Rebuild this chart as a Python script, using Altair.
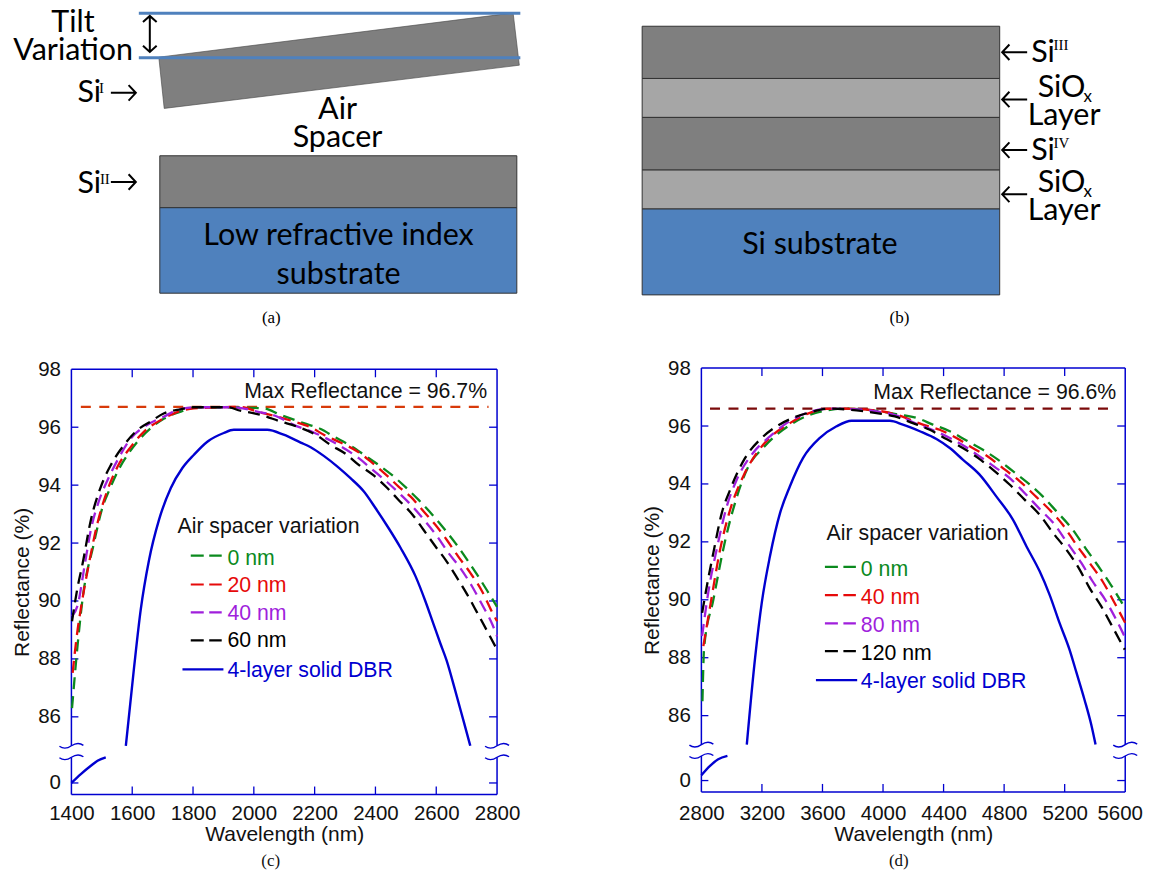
import altair as alt
import pandas as pd

# ---------- reflectance data, panel (c) ----------
C_GREEN_W = [1402,1421,1437,1472,1503,1525,1552,1585,1617,1661,1705,1760,1814,1912,2033,2087,2164,2220,2263,2318,2362,2410,2460,2499,2542,2587,2624,2663,2698,2735,2772,2800]
C_GREEN_V = [86.3,88.55,90.1,91.9,93.26,93.84,94.47,95.05,95.5,95.97,96.3,96.54,96.69,96.69,96.65,96.43,96.14,95.94,95.68,95.36,95.05,94.7,94.3,93.93,93.49,92.98,92.52,92.0,91.48,90.9,90.28,89.8]
C_RED_W = [1404,1419,1432,1456,1486,1519,1552,1596,1639,1694,1738,1803,1956,2011,2076,2131,2187,2230,2285,2341,2384,2439,2476,2515,2558,2597,2636,2672,2712,2751,2785,2800]
C_RED_V = [87.52,88.9,89.8,91.2,92.7,93.84,94.64,95.33,95.85,96.25,96.48,96.65,96.7,96.54,96.37,96.2,96.0,95.74,95.47,95.16,94.82,94.32,93.95,93.61,93.1,92.63,92.09,91.54,90.97,90.33,89.59,89.3]
C_PURPLE_W = [1402,1421,1443,1464,1492,1519,1552,1596,1650,1705,1749,1803,1934,2011,2076,2131,2197,2252,2302,2345,2394,2439,2483,2522,2564,2603,2640,2679,2718,2751,2785,2800]
C_PURPLE_V = [89.47,89.87,91.2,92.46,93.5,94.18,94.87,95.62,96.08,96.37,96.6,96.69,96.69,96.54,96.37,96.08,95.82,95.54,95.24,94.93,94.5,94.1,93.67,93.26,92.75,92.23,91.66,91.14,90.5,89.87,89.18,88.78]
C_BLACK_W = [1402,1419,1437,1464,1497,1530,1574,1617,1661,1705,1760,1803,1912,1956,2022,2087,2142,2204,2252,2302,2345,2391,2439,2476,2522,2558,2597,2630,2669,2702,2735,2768,2800]
C_BLACK_V = [89.3,90.4,91.3,92.8,93.95,94.7,95.4,95.9,96.2,96.48,96.62,96.69,96.69,96.57,96.43,96.2,96.02,95.74,95.39,95.08,94.7,94.36,93.9,93.49,92.98,92.46,91.89,91.43,90.79,90.22,89.59,88.95,88.32]
C_BLUE_W = [1579,1606,1628,1655,1688,1727,1765,1803,1847,1901,1934,2044,2098,2154,2187,2230,2275,2318,2362,2400,2443,2483,2532,2564,2591,2613,2634,2660,2690,2712]
C_BLUE_V = [85,87.7,89.7,91.4,92.8,93.9,94.59,95.05,95.5,95.8,95.91,95.91,95.74,95.47,95.31,95.01,94.64,94.24,93.78,93.21,92.52,91.83,90.85,90.0,89.2,88.55,87.95,87.0,85.85,85]
C_LOW_W = [1400,1431,1464,1486,1513]
C_LOW_V = [0,6.9,13.4,17.3,20]

# ---------- reflectance data, panel (d) ----------
D_GREEN_W = [2807,2818,2879,2956,3022,3110,3207,3297,3405,3517,3627,3735,3900,4111,4221,4329,4441,4551,4660,4759,4858,4969,5055,5145,5244,5343,5417,5507,5600]
D_GREEN_V = [86.5,88.34,90.0,92.02,93.34,94.6,95.24,95.7,96.1,96.39,96.54,96.6,96.56,96.39,96.28,96.05,95.82,95.5,95.18,94.84,94.44,93.98,93.57,93.06,92.48,91.74,91.2,90.5,89.7]
D_RED_W = [2813,2858,2924,2990,3076,3166,3274,3385,3495,3627,3735,3913,4045,4089,4263,4374,4485,4592,4692,4803,4902,5001,5100,5186,5277,5364,5450,5529,5600]
D_RED_V = [88.4,89.78,91.74,93.11,94.26,95.07,95.7,96.1,96.41,96.59,96.6,96.56,96.45,96.39,96.05,95.87,95.59,95.24,94.95,94.5,94.1,93.61,93.11,92.6,91.9,91.28,90.64,89.9,89.2]
D_PURPLE_W = [2805,2845,2901,2968,3034,3141,3253,3363,3495,3649,3869,4001,4111,4221,4309,4429,4539,4638,4737,4848,4935,5034,5133,5210,5309,5384,5474,5540,5600]
D_PURPLE_V = [88.75,90.24,91.74,93.23,94.15,95.07,95.64,96.1,96.45,96.6,96.56,96.47,96.33,96.08,95.9,95.62,95.3,94.95,94.59,94.15,93.69,93.14,92.6,92.02,91.28,90.64,89.95,89.32,88.69]
D_BLACK_W = [2805,2836,2879,2935,2990,3089,3199,3297,3405,3517,3649,3826,3979,4078,4197,4309,4419,4527,4627,4737,4836,4935,5034,5120,5210,5298,5364,5441,5507,5597]
D_BLACK_V = [89.55,90.47,91.62,93.0,93.8,94.9,95.59,95.99,96.28,96.47,96.6,96.54,96.43,96.33,96.1,95.87,95.55,95.24,94.9,94.44,93.98,93.46,92.94,92.33,91.74,91.05,90.41,89.78,89.15,88.28]
D_BLUE_W = [3100,3155,3199,3253,3320,3385,3472,3583,3693,3792,4045,4131,4243,4353,4441,4527,4638,4748,4858,4947,5034,5100,5166,5232,5277,5331,5375,5404]
D_BLUE_V = [85,88.0,89.9,91.5,93.0,93.92,94.9,95.59,95.99,96.18,96.18,96.05,95.82,95.55,95.24,94.84,94.32,93.57,92.77,91.85,90.99,90.18,89.2,88.28,87.5,86.55,85.7,85]
D_LOW_W = [2800,2857,2911,2972]
D_LOW_V = [4.3,11.9,17.3,20.8]

Y_TICKS = [0,86,88,90,92,94,96,98]
C_X_TICKS = [1400,1600,1800,2000,2200,2400,2600,2800]
D_X_TICKS = [2800,3200,3600,4000,4400,4800,5200,5600]

FRAME = "#0000d0"
GREEN, RED, PURPLE, BLACK, BLUE = "#0b8a1e", "#e60a0a", "#a01fdc", "#000000", "#0000d0"
SANS, SERIF, DIAG = "Liberation Sans", "Liberation Serif", "Lato"
TXT = "#111111"
ONE = alt.Data(values=[{"k": 1}])
TAG_Y = 867

SQUIGGLE = "M-1,.04C-.7,.26 -.35,.24 0,0C.35,-.24 .7,-.26 1,-.04"
ARROW_R = "M-1,0L1,0M.42,-.62L1,0L.42,.62"
ARROW_L = "M1,0L-1,0M-.42,-.62L-1,0L-.42,.62"
ARROW_V = "M0,-1L0,1M-.38,-.66L0,-1L.38,-.66M-.38,.66L0,1L.38,.66"


def px_text(text, x, y, size=21.3, color=TXT, font=SANS, align="left"):
    return alt.Chart(alt.Data(values=[{"t": text}])).mark_text(
        align=align, baseline="alphabetic", fontSize=size, font=font, color=color
    ).encode(x=alt.value(x), y=alt.value(y), text="t:N")


def px_rule(x, x2, y, color, dash=None, width=2.2):
    kw = {"strokeDash": dash} if dash else {}
    return alt.Chart(ONE).mark_rule(color=color, strokeWidth=width, **kw).encode(
        x=alt.value(x), x2=alt.value(x2), y=alt.value(y))


def spectrum_panel(cfg):
    xs = alt.Scale(domain=cfg["xdom"], range=[0, cfg["w"]], nice=False, zero=False)
    ys = alt.Scale(domain=cfg["ydom"], range=cfg["yrange"], nice=False, zero=False)
    xax = alt.Axis(values=cfg["xticks"], ticks=False, domain=False, grid=False, labelPadding=9.5,
                   labelFlush=False, labelOverlap=False, format="d", titlePadding=cfg["xpad"],
                   labelOffset={"condition": {"test": "datum.value == 5600", "value": -5.5}, "value": 0})
    yax = alt.Axis(values=Y_TICKS, ticks=False, domain=False, grid=False, labelPadding=11,
                   labelOverlap=False, labelFlush=False, format="d", titlePadding=cfg["ypad"])
    X = lambda f: alt.X(f, scale=xs, axis=xax, title="Wavelength (nm)")
    Y = lambda f: alt.Y(f, scale=ys, axis=yax, title="Reflectance (%)")
    w, top, bot = cfg["w"], cfg["yrange"][3], cfg["yrange"][0]
    ox, oy = cfg["ox"], cfg["oy"]
    layers = []

    # frame with the break in the vertical sides
    seg = pd.DataFrame({"a": [cfg["ydom"][0], 85], "b": [20, 98]})
    for xv in (0, w):
        layers.append(alt.Chart(seg).mark_rule(color=FRAME, strokeWidth=1.5).encode(
            x=alt.value(xv), y=Y("a:Q"), y2="b:Q"))
    for yv in (top, bot):
        layers.append(alt.Chart(ONE).mark_rule(color=FRAME, strokeWidth=1.5).encode(
            x=alt.value(0), x2=alt.value(w), y=alt.value(yv)))

    # inward ticks
    ydf = pd.DataFrame({"v": Y_TICKS[:-1]})
    xdf = pd.DataFrame({"t": cfg["xticks"][1:-1]})
    for a, b in ((0, 7), (w - 8, w)):
        layers.append(alt.Chart(ydf).mark_rule(color=FRAME, strokeWidth=1.3).encode(
            y=Y("v:Q"), x=alt.value(a), x2=alt.value(b)))
    for a, b in ((top, top + 8), (bot - 8, bot)):
        layers.append(alt.Chart(xdf).mark_rule(color=FRAME, strokeWidth=1.3).encode(
            x=X("t:Q"), y=alt.value(a), y2=alt.value(b)))

    # axis break marks
    brk = pd.DataFrame({"w": [cfg["xdom"][0]] * 2 + [cfg["xdom"][1]] * 2, "v": [85, 20, 85, 20]})
    layers.append(alt.Chart(brk).mark_point(
        shape=SQUIGGLE, size=576, filled=False, opacity=1, stroke=FRAME, strokeWidth=1.4
    ).encode(x=X("w:Q"), y=Y("v:Q")))

    # max reflectance line
    mx = pd.DataFrame({"w": cfg["max_w"], "v": [cfg["max_v"]] * 2})
    layers.append(alt.Chart(mx).mark_line(color=cfg["max_color"], strokeWidth=2.2, strokeDash=[10, 8.5]).encode(
        x=X("w:Q"), y=Y("v:Q")))

    # spectra
    for wl, rf, col in cfg["dashed"]:
        df = pd.DataFrame({"w": wl, "v": rf})
        layers.append(alt.Chart(df).mark_line(color=col, strokeWidth=2.3, strokeDash=[12, 7], interpolate="monotone").encode(
            x=X("w:Q"), y=Y("v:Q")))
    for wl, rf in cfg["solid"]:
        df = pd.DataFrame({"w": wl, "v": rf})
        layers.append(alt.Chart(df).mark_line(color=BLUE, strokeWidth=2.4, interpolate="monotone").encode(
            x=X("w:Q"), y=Y("v:Q")))

    # annotation and hand-made legend
    layers.append(px_text(cfg["max_text"], cfg["max_tx"] - ox, cfg["max_ty"] - oy, align="right"))
    layers.append(px_text("Air spacer variation", cfg["leg_x"] - ox, cfg["leg_y"] - oy))
    for (label, col, ty, ly) in cfg["entries"]:
        layers.append(px_text(label, cfg["lab_x"] - ox, ty - oy, color=col))
        if col == BLUE:
            layers.append(px_rule(cfg["solid_x"][0] - ox, cfg["solid_x"][1] - ox, ly - oy, BLUE, width=2.4))
        else:
            layers.append(px_rule(cfg["dash_x"][0] - ox, cfg["dash_x"][1] - ox, ly - oy, col, dash=[13, 5.5]))
    layers.append(px_text(cfg["tag"], cfg["tag_x"] - ox, TAG_Y - oy, size=17, font=SERIF, align="center"))

    return alt.layer(*layers).properties(width=426, height=427)


panel_c = spectrum_panel(dict(
    xdom=[1400, 2800], w=426.2, ydom=[-9, 20, 85, 98], yrange=[427, 389.7, 378.2, 1.2],
    xticks=C_X_TICKS, xpad=-1, ypad=5, ox=70.5, oy=368.3,
    max_w=[1431, 2772], max_v=96.7, max_color="#d83a0a",
    max_text="Max Reflectance = 96.7%", max_tx=486.7, max_ty=398,
    leg_x=176.7, leg_y=533, lab_x=226.7, dash_x=(190, 221), solid_x=(181.7, 222.7),
    entries=[("0 nm", GREEN, 565, 556), ("20 nm", RED, 592.7, 585), ("40 nm", PURPLE, 620.7, 613),
             ("60 nm", BLACK, 648, 641), ("4-layer solid DBR", BLUE, 677.3, 670)],
    dashed=[(C_GREEN_W, C_GREEN_V, GREEN), (C_RED_W, C_RED_V, RED),
            (C_PURPLE_W, C_PURPLE_V, PURPLE), (C_BLACK_W, C_BLACK_V, BLACK)],
    solid=[(C_BLUE_W, C_BLUE_V), (C_LOW_W, C_LOW_V)],
    tag="(c)", tag_x=270,
))

panel_d = spectrum_panel(dict(
    xdom=[2800, 5600], w=424.4, ydom=[-9.27, 20, 85, 98], yrange=[424.4, 388.4, 377, 0],
    xticks=D_X_TICKS, xpad=-1, ypad=5, ox=701.3, oy=368.3,
    max_w=[2857, 5540], max_v=96.6, max_color="#7b0a0a",
    max_text="Max Reflectance = 96.6%", max_tx=1116.7, max_ty=399,
    leg_x=826.7, leg_y=540.7, lab_x=861, dash_x=(825, 856), solid_x=(816, 857.3),
    entries=[("0 nm", GREEN, 576.7, 567.3), ("40 nm", RED, 604.3, 595.7), ("80 nm", PURPLE, 632.3, 624),
             ("120 nm", BLACK, 660.7, 651.7), ("4-layer solid DBR", BLUE, 688.3, 680.7)],
    dashed=[(D_GREEN_W, D_GREEN_V, GREEN), (D_RED_W, D_RED_V, RED),
            (D_PURPLE_W, D_PURPLE_V, PURPLE), (D_BLACK_W, D_BLACK_V, BLACK)],
    solid=[(D_BLUE_W, D_BLUE_V), (D_LOW_W, D_LOW_V)],
    tag="(d)", tag_x=899,
))

# ---------- schematic diagrams (drawing units of the figure) ----------
GRAY, LIGHT, SUB = "#7f7f7f", "#a6a6a6", "#4f81bd"
A_RECTS = [(159, 516.5, 155.7, 207.7, GRAY), (159, 516.5, 207.7, 293.3, SUB)]
B_RECTS = [(642, 1000, 26, 78.3, GRAY), (642, 1000, 78.3, 117.3, LIGHT), (642, 1000, 117.3, 170, GRAY),
           (642, 1000, 170, 209, LIGHT), (642, 1000, 209, 295, SUB)]
TILT_X = [158, 163.4, 512.8, 519]
TILT_TOP = [57, 56.3, 12.7, 65]
TILT_BOTTOM = [57, 108.3, 65.8, 65]
LIMIT_Y = [13, 57.5]
LIMIT_X = [138, 520]
A_ARROWS = [(122.5, 92.7, ARROW_R, 625), (122.5, 182, ARROW_R, 625), (149, 33.7, ARROW_V, 1296)]
B_ARROWS = [(1015, 52, ARROW_L, 625), (1015, 99.3, ARROW_L, 625), (1015, 150, ARROW_L, 625), (1015, 194.3, ARROW_L, 625)]
# text, x, y, size, font, align
A_TEXT = [("Tilt", 72, 31.7, 30.5, DIAG, "center"), ("Variation", 72.3, 60, 30.5, DIAG, "center"),
          ("Si", 76.5, 101.7, 30.5, DIAG, "left"), ("I", 98, 93, 15, SERIF, "left"),
          ("Si", 76.5, 193, 30.5, DIAG, "left"), ("II", 99, 184, 15, SERIF, "left"),
          ("Air", 337, 119.3, 30.5, DIAG, "center"), ("Spacer", 337, 146.7, 30.5, DIAG, "center"),
          ("Low refractive index", 338, 245, 30.5, DIAG, "center"), ("substrate", 338, 284, 30.5, DIAG, "center"),
          ("(a)", 270.7, 323, 17, SERIF, "center")]
B_TEXT = [("Si", 1031.6, 62.3, 30.5, DIAG, "left"), ("III", 1054, 50, 15, SERIF, "left"),
          ("SiO", 1038, 97.3, 30.5, DIAG, "left"), ("x", 1084, 101.7, 17, DIAG, "left"),
          ("Layer", 1064.5, 125, 30.5, DIAG, "center"),
          ("Si", 1031.6, 160, 30.5, DIAG, "left"), ("IV", 1054, 148, 15, SERIF, "left"),
          ("SiO", 1038, 192.3, 30.5, DIAG, "left"), ("x", 1084, 197.3, 17, DIAG, "left"),
          ("Layer", 1064.5, 220, 30.5, DIAG, "center"),
          ("Si substrate", 820, 254.3, 30.5, DIAG, "center"), ("(b)", 899.6, 323, 17, SERIF, "center")]


def diagram(x0, rects, arrows, texts, tilted=False):
    xs = alt.Scale(domain=[x0, x0 + 426], range=[0, 426], nice=False, zero=False)
    ys = alt.Scale(domain=[8.3, 328.3], range=[0, 320], nice=False, zero=False)
    X = lambda f: alt.X(f, scale=xs, axis=None)
    Y = lambda f: alt.Y(f, scale=ys, axis=None)
    layers = []
    for a, b, c, d, col in rects:
        df = pd.DataFrame({"a": [a], "b": [b], "c": [c], "d": [d]})
        layers.append(alt.Chart(df).mark_rect(fill=col, stroke="#333333", strokeWidth=1).encode(
            x=X("a:Q"), x2="b:Q", y=Y("c:Q"), y2="d:Q"))
    if tilted:
        df = pd.DataFrame({"x": TILT_X, "t": TILT_TOP, "b": TILT_BOTTOM})
        layers.append(alt.Chart(df).mark_area(color=GRAY, opacity=1, stroke="#444444", strokeWidth=0.6).encode(
            x=X("x:Q"), y=Y("t:Q"), y2="b:Q"))
        for yv in LIMIT_Y:
            df = pd.DataFrame({"x": LIMIT_X, "y": [yv, yv]})
            layers.append(alt.Chart(df).mark_line(color=SUB, strokeWidth=3).encode(x=X("x:Q"), y=Y("y:Q")))
    for x, y, shp, size in arrows:
        df = pd.DataFrame({"x": [x], "y": [y]})
        layers.append(alt.Chart(df).mark_point(shape=shp, size=size, filled=False, opacity=1,
                                               stroke="#000000", strokeWidth=2).encode(x=X("x:Q"), y=Y("y:Q")))
    for t, x, y, size, font, align in texts:
        df = pd.DataFrame({"x": [x], "y": [y], "t": [t]})
        layers.append(alt.Chart(df).mark_text(baseline="alphabetic", align=align, fontSize=size, font=font,
                                              color="#000000").encode(x=X("x:Q"), y=Y("y:Q"), text="t:N"))
    return alt.layer(*layers).properties(width=426, height=320)


panel_a = diagram(70.5, A_RECTS, A_ARROWS, A_TEXT, tilted=True)
panel_b = diagram(701.3, B_RECTS, B_ARROWS, B_TEXT)

chart = alt.concat(
    panel_a, panel_b, panel_c, panel_d, columns=2, align="each", bounds="flush",
    spacing={"row": 40, "column": 204.8},
).properties(padding={"left": 3.5, "top": -2, "right": 0, "bottom": 0}).configure_view(strokeWidth=0).configure_axis(
    labelFont=SANS, titleFont=SANS, labelFontSize=20.5, titleFontSize=21, titleFontWeight="normal",
    labelColor=TXT, titleColor=TXT,
)

chart.save("out.html", embed_options={"renderer": "svg", "actions": False})
